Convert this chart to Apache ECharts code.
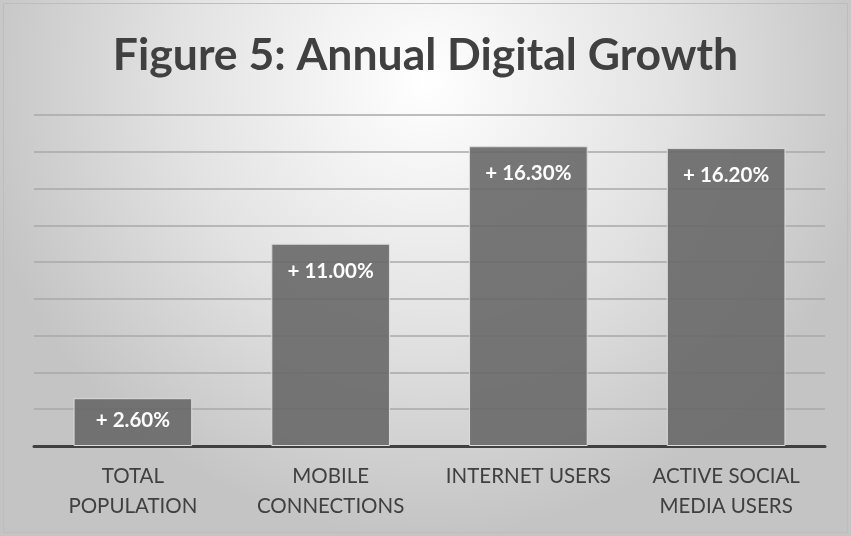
<!DOCTYPE html>
<html>
<head>
<meta charset="utf-8">
<script src="https://cdn.jsdelivr.net/npm/echarts@6/dist/echarts.min.js"></script>
<style>
  html, body { margin: 0; padding: 0; background: #ffffff; }
  #chart { width: 851px; height: 536px; }
</style>
</head>
<body>
<div id="chart"></div>
<script>
// Annual growth by category (percent)
const categories = ['TOTAL\nPOPULATION', 'MOBILE\nCONNECTIONS', 'INTERNET USERS', 'ACTIVE SOCIAL\nMEDIA USERS'];
const growth = [2.6, 11.0, 16.3, 16.2];
const yTicks = { min: 0, max: 18, interval: 2 };
const titleText = 'Figure 5: Annual Digital Growth';

const chart = echarts.init(document.getElementById('chart'), null, { renderer: 'canvas' });

const option = {
  backgroundColor: {
    type: 'radial', x: 0.5, y: 0.15, r: 0.85,
    colorStops: [
      { offset: 0, color: '#ffffff' },
      { offset: 0.55, color: '#e2e2e2' },
      { offset: 1, color: '#c4c4c4' }
    ]
  },
  animation: false,
  title: {
    text: titleText,
    left: 'center',
    top: 28,
    textStyle: {
      fontFamily: 'Lato',
      fontWeight: 'bold',
      fontSize: 44.5,
      color: '#404040'
    }
  },
  graphic: [{
    type: 'rect',
    shape: { x: 3.5, y: 3.5, width: 844, height: 529 },
    style: { fill: 'none', stroke: '#bdbdbd', lineWidth: 1 },
    silent: true
  }],
  grid: { left: 34, right: 26, top: 115, bottom: 90, containLabel: false },
  xAxis: {
    type: 'category',
    data: categories,
    axisLine: { show: true, lineStyle: { color: '#404040', width: 3 } },
    axisTick: { show: false },
    axisLabel: {
      fontFamily: 'Lato',
      fontSize: 20.5,
      color: '#404040',
      lineHeight: 29.5,
      margin: 16,
      interval: 0
    }
  },
  yAxis: {
    type: 'value',
    min: yTicks.min,
    max: yTicks.max,
    interval: yTicks.interval,
    axisLabel: { show: false },
    axisLine: { show: false },
    axisTick: { show: false },
    splitLine: { lineStyle: { color: '#a8a8a8', width: 1.5 } }
  },
  series: [{
    type: 'bar',
    data: growth.map((v, i) => ({
      value: v,
      label: { distance: i === 0 ? 12 : 17 }
    })),
    barWidth: '60%',
    itemStyle: {
      color: 'rgba(104,104,104,0.9)',
      borderColor: '#dcdcdc',
      borderWidth: 1
    },
    label: {
      show: true,
      position: 'insideTop',
      formatter: p => '+ ' + p.value.toFixed(2) + '%',
      fontFamily: 'Lato',
      fontWeight: 'bold',
      fontSize: 20.5,
      color: '#ffffff'
    }
  }]
};

chart.setOption(option);
</script>
</body>
</html>
